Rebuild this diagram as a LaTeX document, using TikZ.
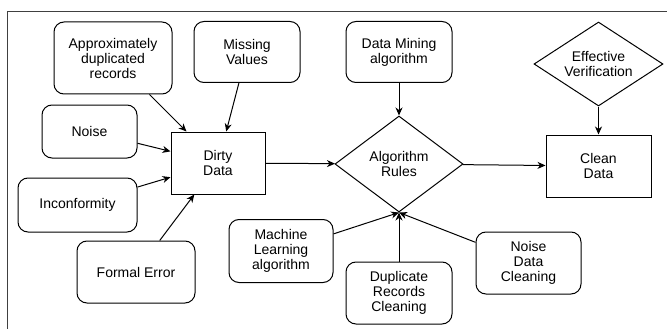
\documentclass[tikz,border=0pt]{standalone}
\usepackage{fontspec}
\setmainfont{Liberation Sans}
\usepackage{tikz}
\usetikzlibrary{arrows.meta,shapes.geometric}
\tikzstyle{box}=[draw,rounded corners=10pt,align=center,inner sep=2pt]
\tikzstyle{block}=[draw,align=center,inner sep=2pt]
\tikzstyle{choice}=[draw,diamond,aspect=1.5,align=center,inner sep=0pt]
\tikzstyle{line} = [draw, -{Stealth[length=8pt,width=7pt,inset=2.5pt]}]

\begin{document}
\begin{tikzpicture}[x=1pt,y=-1pt,line width=1pt,font=\fontsize{14}{15}\selectfont]
    \useasboundingbox (0,0) rectangle (667,329);
    \draw[black!75,line width=0.8pt] (7,329) -- (7,11) -- (667,11); % frame, cut off right and below

        % inputs of the dirty data
        \node[box,minimum width=118pt,minimum height=72pt] (AD) at (113,58) {Approximately\\duplicated\\records};
        \node[box,minimum width=106pt,minimum height=61pt] (MV) at (247,52) {Missing\\Values};
        \node[box,minimum width=95pt,minimum height=53pt] (NO) at (89.5,131.5) {Noise};
        \node[box,minimum width=119pt,minimum height=54pt] (IC) at (77.5,205) {Inconformity};
        \node[box,minimum width=118pt,minimum height=62pt] (FE) at (136,272) {Formal Error};
        \node[block,minimum width=94pt,minimum height=62pt] (DD) at (218,163) {Dirty\\Data};

        % rules and cleaning
        \node[box,minimum width=106pt,minimum height=61pt] (DM) at (399,52) {Data Mining\\algorithm};
        \node[choice,minimum width=128pt,minimum height=96pt] (AR) at (399,164) {Algorithm\\Rules};
        \node[box,minimum width=104pt,minimum height=63pt] (ML) at (281,251) {Machine\\Learning\\algorithm};
        \node[box,minimum width=106pt,minimum height=62pt] (DR) at (399,293) {Duplicate\\Records\\Cleaning};
        \node[box,minimum width=105pt,minimum height=62pt] (ND) at (528.5,263) {Noise\\Data\\Cleaning};

        % output
        \node[choice,minimum width=129pt,minimum height=84pt] (EV) at (598.5,64) {Effective\\Verification};
        \node[block,minimum width=105pt,minimum height=62pt] (CD) at (598.5,166) {Clean\\Data};

  \path [line] (AD) -- (DD);
  \path [line] (MV) -- (DD);
  \path [line] (NO) -- (DD);
  \path [line] (IC) -- (DD);
  \path [line] (FE) -- (DD);
  \path [line] (DD) -- (AR);
  \path [line] (DM) -- (AR);
  \path [line] (ML) -- (AR.south);
  \path [line] (DR) -- (AR.south);
  \path [line] (ND) -- (AR.south);
  \path [line] (AR) -- (CD);
  \path [line] (EV) -- (CD);

\end{tikzpicture}
\end{document}
